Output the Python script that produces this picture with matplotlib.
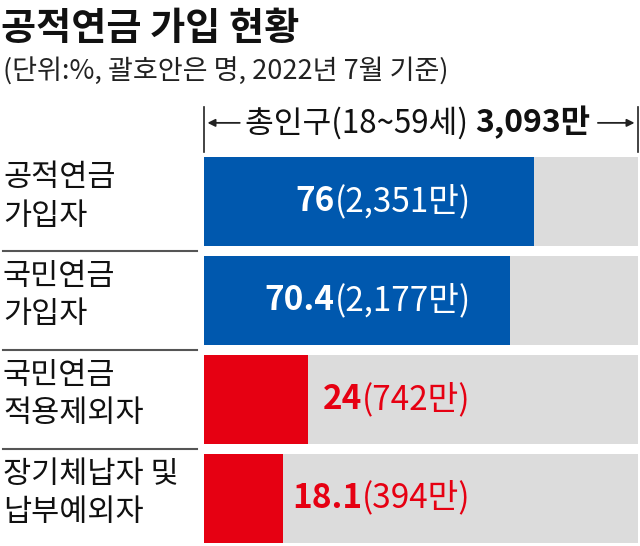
import matplotlib.pyplot as plt
import matplotlib.transforms as mtransforms

plt.rcParams['font.family'] = ['Noto Sans CJK KR', 'DejaVu Sans']

# data
categories = ['공적연금\n가입자', '국민연금\n가입자', '국민연금\n적용제외자', '장기체납자 및\n납부예외자']
shares = [76, 70.4, 24, 18.1]
counts = ['(2,351만)', '(2,177만)', '(742만)', '(394만)']
share_labels = ['76', '70.4', '24', '18.1']
total_label = ['총인구(18~59세) ', '3,093만']

blue = '#0058AE'
red = '#E60012'
gray = '#DCDCDC'
bar_colors = [blue, blue, red, red]
text_colors = ['white', 'white', red, red]

W, H = 640, 546
fig = plt.figure(figsize=(W / 100, H / 100), dpi=100)

ax = fig.add_axes([204 / W, -1.5 / H, 434 / W, 395 / H])
ypos = range(len(categories))
ax.barh(ypos, [100] * len(shares), height=0.9, color=gray)
ax.barh(ypos, shares, height=0.9, color=bar_colors)
ax.set_xlim(0, 100)
ax.set_ylim(3.5, -0.5)
ax.axis('off')

fig.text(1 / W, 1 - 40 / H, '공적연금 가입 현황', fontsize=27.5, fontweight='bold',
         va='baseline', ha='left', color='#111111')
fig.text(3 / W, 1 - 80 / H, '(단위:%, 괄호안은 명, 2022년 7월 기준)', fontsize=19.5,
         va='baseline', ha='left', color='#222222')

# left labels and separators
lbl_tr = mtransforms.blended_transform_factory(fig.transFigure, ax.transData)
for i, c in enumerate(categories):
    ax.text(3 / W, i - 0.05, c, transform=lbl_tr, fontsize=22, va='center',
            ha='left', linespacing=1.3, color='#111111')
for i in range(len(categories) - 1):
    ax.plot([3 / W, 197 / W], [i + 0.5, i + 0.5], transform=lbl_tr,
            color='#555555', lw=1.5, clip_on=False)

# value labels, right aligned
fig.canvas.draw()
r = fig.canvas.get_renderer()
inv = ax.transData.inverted()
label_x = 61.5
for i in ypos:
    t = ax.text(label_x, i, counts[i], fontsize=24, color=text_colors[i],
                va='center', ha='right')
    bb = t.get_window_extent(r)
    x0 = inv.transform((bb.x0, bb.y0))[0]
    ax.text(x0, i, share_labels[i], fontsize=24, fontweight='bold',
            color=text_colors[i], va='center', ha='right')

# total header
hdr_tr = mtransforms.blended_transform_factory(ax.transData, ax.transAxes)
hy = 1.075
t1 = ax.text(0, hy, total_label[0], transform=hdr_tr, fontsize=22.5,
             va='center', ha='left', color='#111111')
t2 = ax.text(0, hy, total_label[1], transform=hdr_tr, fontsize=23,
             fontweight='bold', va='center', ha='left', color='#111111')
w1 = inv.transform((t1.get_window_extent(r).width, 0))[0] - inv.transform((0, 0))[0]
w2 = inv.transform((t2.get_window_extent(r).width, 0))[0] - inv.transform((0, 0))[0]
start = 49.2 - (w1 + w2) / 2
t1.set_x(start)
t2.set_x(start + w1)
left_end = start
right_end = start + w1 + w2
for xv in (0, 100):
    ax.plot([xv, xv], [1.001, 1.115], transform=hdr_tr, color='#222222',
            lw=1.2, clip_on=False)
arrow = dict(arrowstyle='-|>', color='#222222', lw=1.3, mutation_scale=11,
             shrinkA=0, shrinkB=0)
ax.annotate('', xy=(0.8, hy), xytext=(left_end - 1.2, hy), xycoords=hdr_tr,
            textcoords=hdr_tr, arrowprops=arrow)
ax.annotate('', xy=(99.2, hy), xytext=(right_end + 1.8, hy), xycoords=hdr_tr,
            textcoords=hdr_tr, arrowprops=arrow)

fig.savefig('out.png', dpi=100)
